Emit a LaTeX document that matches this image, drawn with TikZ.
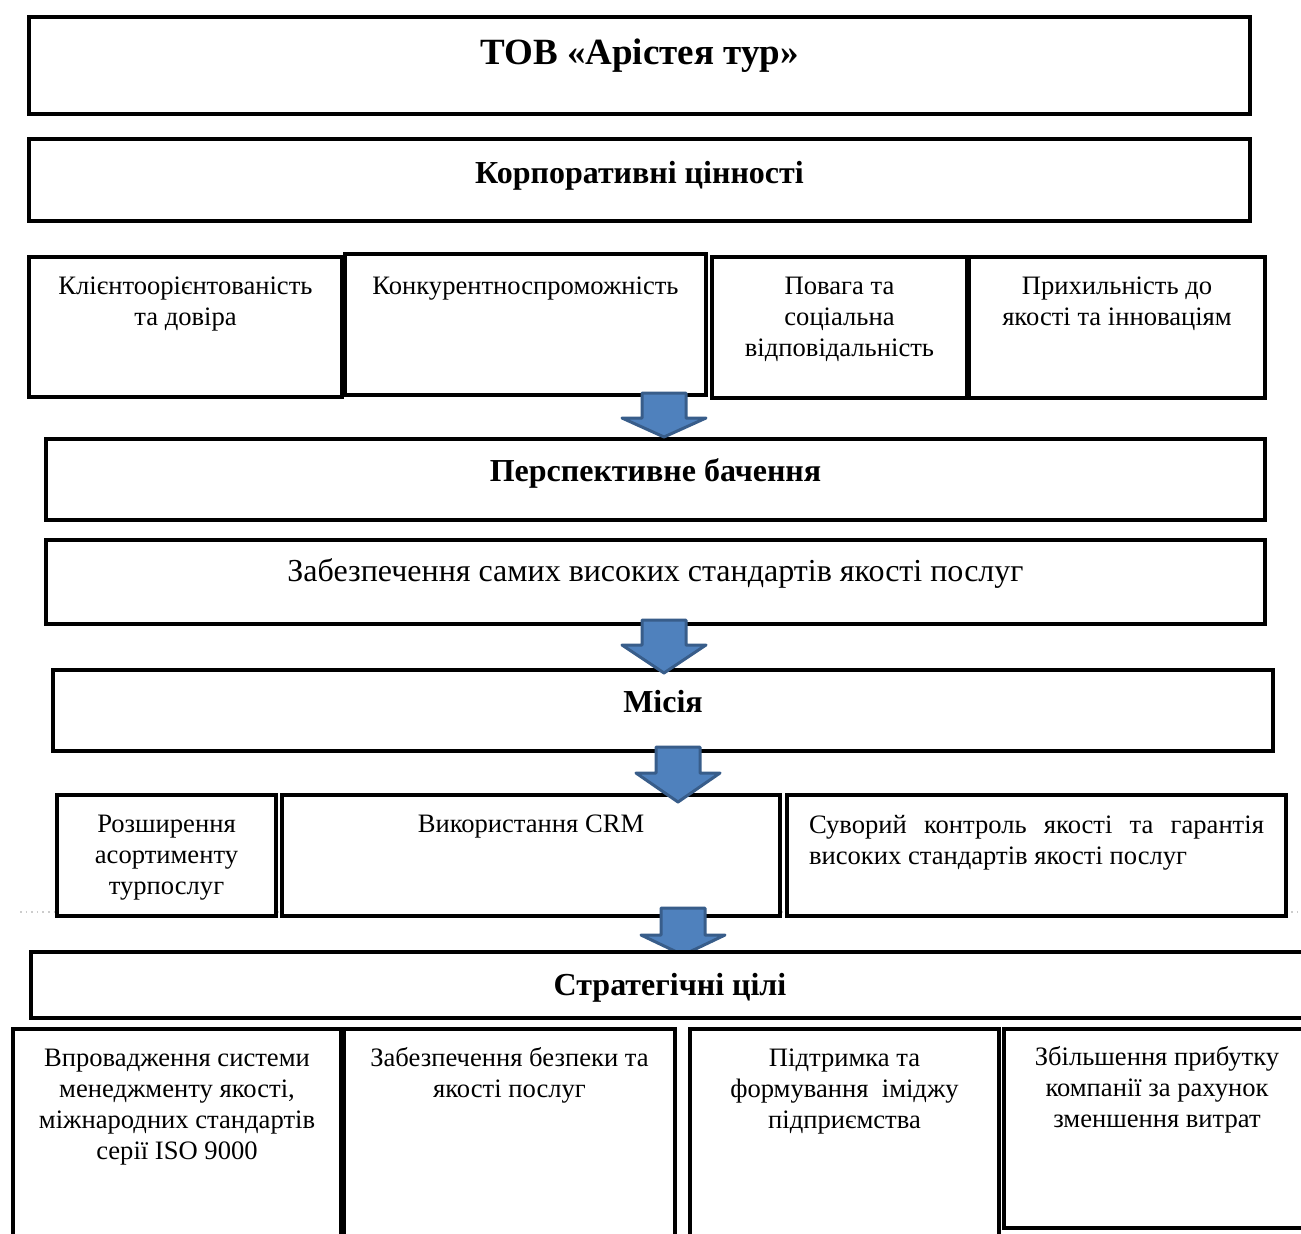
\documentclass[tikz,border=0pt]{standalone}
\usepackage{fontspec}
\setmainfont{Liberation Serif}
\usetikzlibrary{positioning}

\definecolor{arrowfill}{HTML}{4F81BD}
\definecolor{arrowline}{HTML}{385D8A}

% block arrow: centre x, top, start of head, tip
\newcommand{\blockarrow}[4]{%
  \draw[bigarrow] (#1-22,#2) -- (#1+22,#2) -- (#1+22,#3) -- (#1+42,#3)
    -- (#1,#4) -- (#1-42,#3) -- (#1-22,#3) -- cycle;}

\begin{document}
\begin{tikzpicture}[x=0.5pt,y=-0.5pt,
    box/.style 2 args={draw,line width=2.4pt,fill=white,inner sep=0pt,
      minimum width=#1*0.5pt,minimum height=#2*0.5pt},
    txt/.style={inner sep=0pt,align=center,font=\fontsize{13.3}{15.5}\selectfont},
    head/.style={inner sep=0pt,align=center,font=\fontsize{16}{18}\selectfont\bfseries},
    bigarrow/.style={fill=arrowfill,draw=arrowline,line width=1.5pt,line join=round}]
    \useasboundingbox (0,0) rectangle (1301,1233);
    \clip (0,0) rectangle (1301,1233);

    \draw[gray!40,dotted,line width=0.8pt] (20,912) -- (1301,912);

    % company and values
    \node[box={1221}{97}] (tov) at (639.5,65.5) {};
    \node[head,font=\fontsize{18.5}{21}\selectfont\bfseries,below=12pt of tov.north] {ТОВ «Арістея тур»};
    \node[box={1221}{82}] (values) at (639.5,180) {};
    \node[head,below=12pt of values.north] {Корпоративні цінності};

    \node[box={313}{140}] (v1) at (185.5,327) {};
    \node[txt,below=11pt of v1.north] {Клієнтоорієнтованість\\та довіра};
    \node[box={361}{141}] (v2) at (525.5,324.5) {};
    \node[txt,below=12.5pt of v2.north] {Конкурентноспроможність};
    \node[box={255}{141}] (v3) at (839.5,327.5) {};
    \node[txt,below=11pt of v3.north] {Повага та\\соціальна\\відповідальність};
    \node[box={296}{141}] (v4) at (1117,327.5) {};
    \node[txt,below=11pt of v4.north] {Прихильність до\\якості та інноваціям};

    % vision
    \node[box={1219}{81}] (vision) at (655.5,479.5) {};
    \node[head,below=11pt of vision.north] {Перспективне бачення};
    \node[box={1219}{84}] (standard) at (655.5,582) {};
    \node[txt,font=\fontsize{16}{18}\selectfont,below=10.5pt of standard.north] {Забезпечення самих високих стандартів якості послуг};

    % mission
    \node[box={1220}{81}] (mission) at (663,710.5) {};
    \node[head,below=11pt of mission.north] {Місія};

    \node[box={219}{121}] (m1) at (166.5,855.5) {};
    \node[txt,below=11pt of m1.north] {Розширення\\асортименту\\турпослуг};
    \node[box={498}{121}] (m2) at (531,855.5) {};
    \node[txt,below=11pt of m2.north] {Використання CRM};
    \node[box={499}{121}] (m3) at (1036.5,855.5) {};
    \node[txt,align=justify,text width=227.5pt,below=11pt of m3.north]
      {Суворий контроль якості та гарантія\linebreak високих стандартів якості послуг};

    \blockarrow{664}{393}{418}{437}
    \blockarrow{664}{620}{645}{673}
    \blockarrow{678}{747}{773}{802}
    \blockarrow{683}{908}{935}{955}

    % goals
    \node[box={1278}{66}] (goals) at (670,985) {};
    \node[head,below=11.5pt of goals.north] {Стратегічні цілі};

    \node[box={328}{231}] (g1) at (177,1144.5) {};
    \node[txt,below=11pt of g1.north] {Впровадження системи\\менеджменту якості,\\міжнародних стандартів\\серії ISO 9000};
    \node[box={331}{231}] (g2) at (509.5,1144.5) {};
    \node[txt,below=10pt of g2.north] {Забезпечення безпеки та\\якості послуг};
    \node[box={309}{231}] (g3) at (844.5,1144.5) {};
    \node[txt,below=11pt of g3.north] {Підтримка та\\формування\ \ іміджу\\підприємства};
    \node[box={306}{199}] (g4) at (1157,1128.5) {};
    \node[txt,below=9.5pt of g4.north] {Збільшення прибутку\\компанії за рахунок\\зменшення витрат};
\end{tikzpicture}
\end{document}
